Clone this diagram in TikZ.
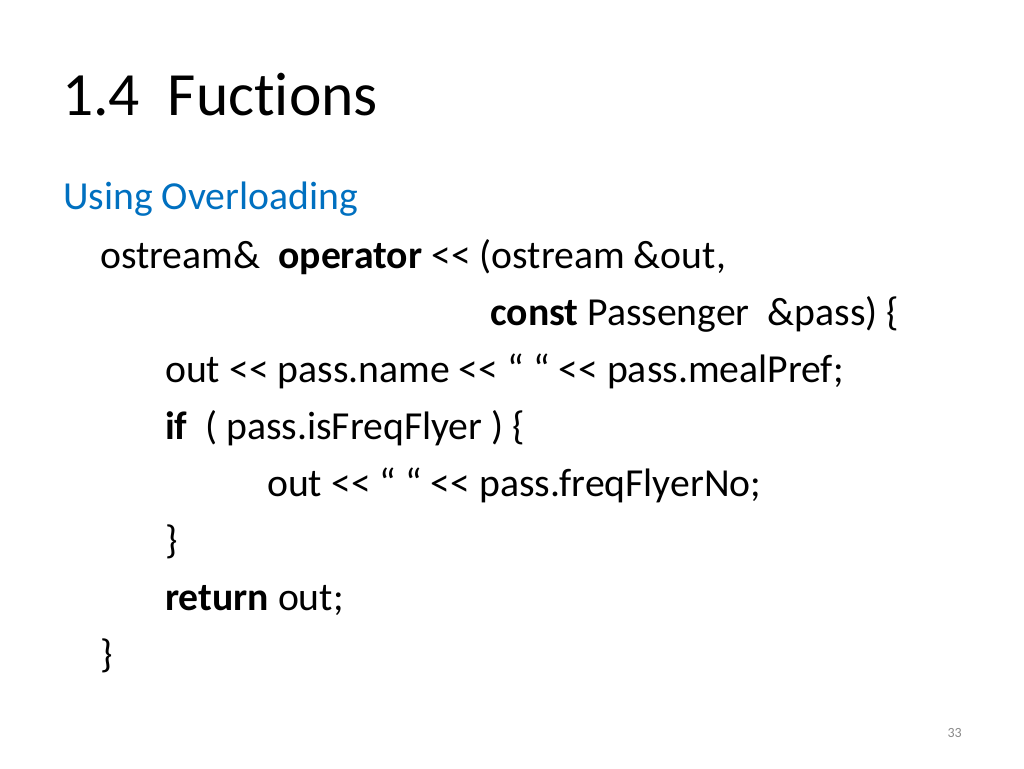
\documentclass[tikz,border=0pt]{standalone}
\usepackage{fontspec}
\usepackage{tikz}
\newfontfamily\slidefont{Carlito}[Ligatures=NoCommon]
\definecolor{slideblue}{RGB}{0,112,192}
\definecolor{pagegray}{RGB}{137,137,137}

\tikzset{
	line/.style={anchor=base west,inner sep=0pt,font=\slidefont\fontsize{39.7}{47}\selectfont},
	heading/.style={anchor=base west,inner sep=0pt,font=\slidefont\fontsize{61.5}{72}\selectfont},
	pagenum/.style={anchor=base east,inner sep=0pt,text=pagegray,font=\slidefont\fontsize{14}{17}\selectfont}
}

\begin{document}
\begin{tikzpicture}[x=1pt,y=-1pt]
	\useasboundingbox[fill=white] (0,0) rectangle (1024,768);
	\node[heading] (title) at (62,115) {1.4\ \ Fuctions};
	\node[line,text=slideblue] (sub) at (63,209) {Using Overloading};
	\node[line] (l1) at (100,268) {ostream\&\ \ \textbf{operator} << (ostream \&out,};
	\node[line] (l2) at (490,325) {\textbf{const} Passenger\ \ \&pass) \{};
	\node[line] (l3) at (165,382) {out << pass.name << “ “ << pass.mealPref;};
	\node[line] (l4) at (165,439) {\textbf{if}\ \ ( pass.isFreqFlyer ) \{};
	\node[line] (l5) at (267,496) {out << “ “ << pass.freqFlyerNo;};
	\node[line] (l6) at (165,553) {\}};
	\node[line] (l7) at (165,610) {\textbf{return} out;};
	\node[line] (l8) at (100,667) {\}};
	\node[pagenum] (page) at (962,737) {33};
\end{tikzpicture}
\end{document}
